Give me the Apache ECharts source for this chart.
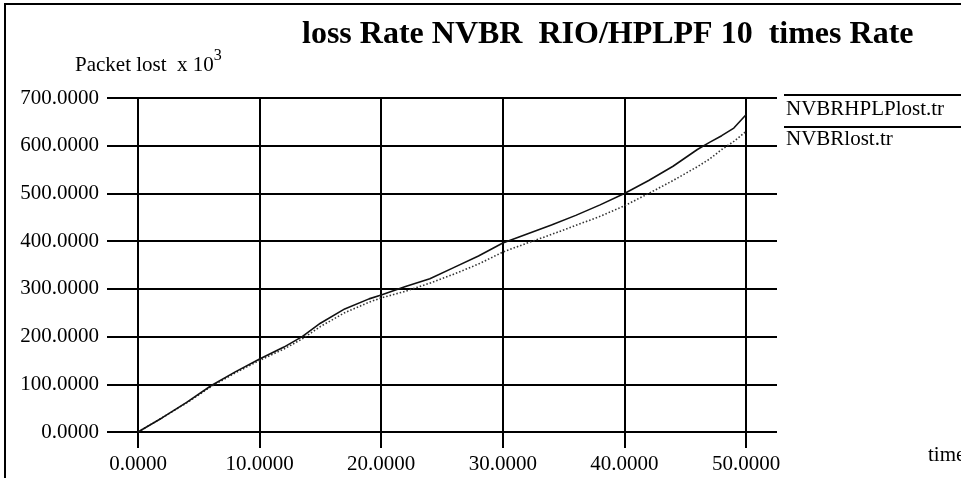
<!DOCTYPE html>
<html>
<head>
<meta charset="utf-8">
<script src="https://cdn.jsdelivr.net/npm/echarts@6/dist/echarts.min.js"></script>
<style>
  html, body { margin: 0; padding: 0; background: #fff; }
  #chart { width: 961px; height: 478px; }
</style>
</head>
<body>
<div id="chart"></div>
<script>
// Simulation time (s) at which the cumulative packet losses were sampled
const times = [0, 2, 4, 6, 8, 10, 12, 13.5, 15, 17, 19, 20, 22, 24, 26, 28, 30, 32, 34, 36, 38, 40, 42, 44, 46, 47, 48, 49, 50];
// Packets lost (x 10^3) with the HPLP filter
const hplpLost = [0, 30, 62, 97, 126, 153, 178, 200, 228, 258, 279, 287, 305, 321, 345, 369, 396, 415, 434, 454, 476, 500, 527, 557, 592, 607, 621, 637, 665];
// Packets lost (x 10^3) without it
const nvbrLost = [0, 30, 61, 95, 124, 150, 174, 195, 221, 250, 272, 281, 295, 312, 331, 352, 377, 396, 414, 433, 452, 474, 500, 527, 556, 572, 592, 609, 630];

const seriesNames = ['NVBRHPLPlost.tr', 'NVBRlost.tr'];
const yTicks = [0, 100, 200, 300, 400, 500, 600, 700];
const xTicks = [0, 10, 20, 30, 40, 50];

const FONT = '"Liberation Serif", "Times New Roman", serif';
const chart = echarts.init(document.getElementById('chart'), null, { renderer: 'canvas' });

const toPairs = (xs, ys) => xs.map((x, i) => [x, ys[i]]);

chart.setOption({
  animation: false,
  backgroundColor: '#fff',
  title: {
    text: 'loss Rate NVBR  RIO/HPLPF 10  times Rate',
    left: 297, top: 14,
    textStyle: { fontFamily: FONT, fontWeight: 'bold', fontSize: 32, color: '#000' }
  },
  grid: [
    // horizontal rules + value axis (lines run a little past the time range)
    { left: 107, right: 184, top: 98, bottom: 46 },
    // vertical rules + time axis
    { left: 138, right: 215, top: 98, bottom: 30 }
  ],
  xAxis: [
    {
      gridIndex: 0, type: 'value', min: -2.549, max: 52.549,
      show: false
    },
    {
      gridIndex: 1, type: 'value', min: xTicks[0], max: xTicks[xTicks.length - 1], interval: 10,
      axisLine: { show: false }, axisTick: { show: false },
      splitLine: { show: true, lineStyle: { color: '#000', width: 2 } },
      axisLabel: {
        margin: 6, fontFamily: FONT, fontSize: 21, color: '#000',
        formatter: v => v.toFixed(4)
      }
    }
  ],
  yAxis: [
    {
      gridIndex: 0, type: 'value', min: yTicks[0], max: yTicks[yTicks.length - 1], interval: 100,
      axisLine: { show: false }, axisTick: { show: false },
      splitLine: { show: true, lineStyle: { color: '#000', width: 2 } },
      axisLabel: {
        margin: 8, fontFamily: FONT, fontSize: 21, color: '#000',
        formatter: v => v.toFixed(4)
      }
    },
    { gridIndex: 1, type: 'value', min: -34, max: 700, show: false }
  ],
  series: [
    {
      name: seriesNames[0], type: 'line', xAxisIndex: 0, yAxisIndex: 0,
      data: toPairs(times, hplpLost), showSymbol: false,
      lineStyle: { color: '#111', width: 1.6, type: 'solid' }, z: 5
    },
    {
      name: seriesNames[1], type: 'line', xAxisIndex: 0, yAxisIndex: 0,
      data: toPairs(times, nvbrLost), showSymbol: false,
      lineStyle: { color: '#333', width: 1.6, type: [1.5, 2] }, z: 4
    }
  ],
  graphic: [
    // outer frame (left and top edges)
    { type: 'line', shape: { x1: 5, y1: 4, x2: 5, y2: 478 }, style: { stroke: '#000', lineWidth: 2 } },
    { type: 'line', shape: { x1: 4, y1: 4, x2: 961, y2: 4 }, style: { stroke: '#000', lineWidth: 2 } },
    // value axis caption
    {
      type: 'text', left: 75, top: 48,
      style: {
        text: '{a|Packet lost  x 10}{s|3}',
        rich: {
          a: { fontFamily: FONT, fontSize: 21, fill: '#000', verticalAlign: 'bottom' },
          s: { fontFamily: FONT, fontSize: 16, fill: '#000', padding: [0, 0, 12, 0] }
        }
      }
    },
    // legend
    { type: 'line', shape: { x1: 784, y1: 95, x2: 961, y2: 95 }, style: { stroke: '#000', lineWidth: 2 } },
    { type: 'text', left: 786, top: 99, style: { text: seriesNames[0], fontFamily: FONT, fontSize: 21, fill: '#000' } },
    { type: 'line', shape: { x1: 784, y1: 127, x2: 961, y2: 127 }, style: { stroke: '#000', lineWidth: 2 } },
    { type: 'text', left: 786, top: 129, style: { text: seriesNames[1], fontFamily: FONT, fontSize: 21, fill: '#000' } },
    // time axis caption
    { type: 'text', left: 928, top: 445, style: { text: 'time', fontFamily: FONT, fontSize: 21, fill: '#000' } }
  ]
});
</script>
</body>
</html>
